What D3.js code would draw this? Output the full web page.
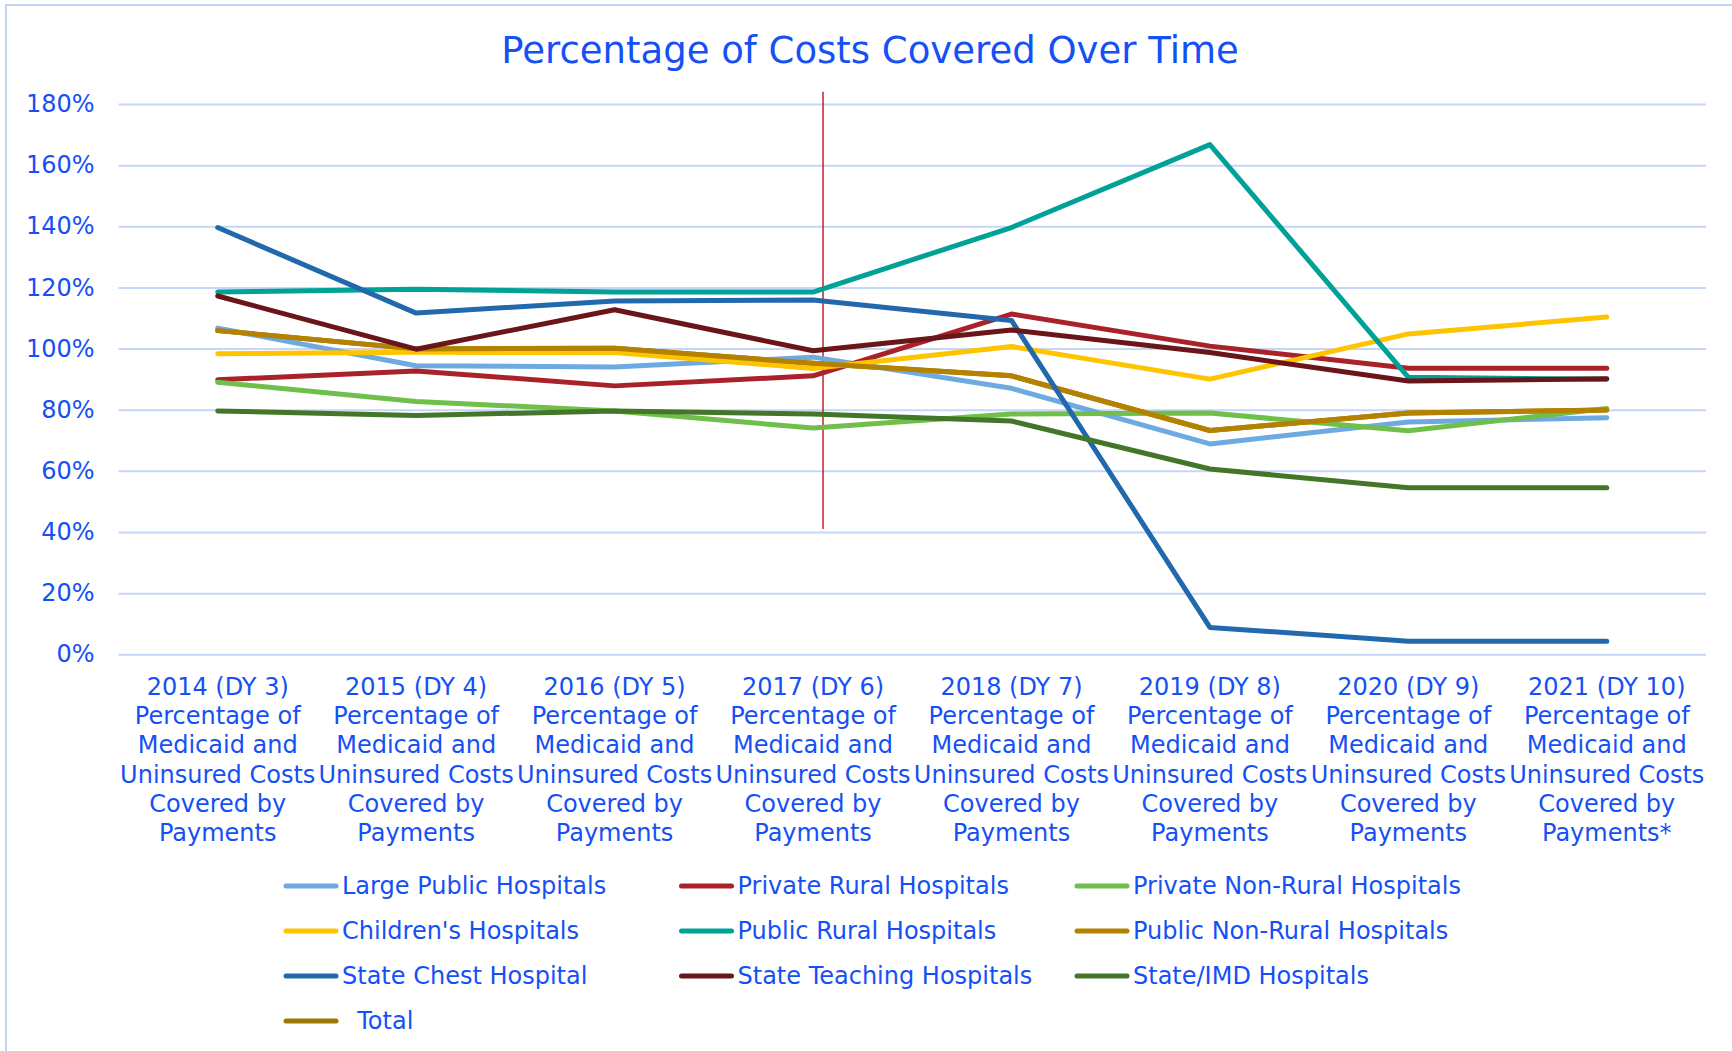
<!DOCTYPE html>
<html>
<head>
<meta charset="utf-8">
<script src="https://cdn.jsdelivr.net/npm/d3@7"></script>
<style>
  body { margin: 0; background: #fff; }
  text { font-family: "DejaVu Sans", Verdana, sans-serif; fill: #1450f5; }
</style>
</head>
<body>
<script>
// categories (x axis)
var categories = ["2014 (DY 3)", "2015 (DY 4)", "2016 (DY 5)", "2017 (DY 6)",
                  "2018 (DY 7)", "2019 (DY 8)", "2020 (DY 9)", "2021 (DY 10)"];
var categoryLines = [
  ["2014 (DY 3)", "Percentage of", "Medicaid and", "Uninsured Costs", "Covered by", "Payments"],
  ["2015 (DY 4)", "Percentage of", "Medicaid and", "Uninsured Costs", "Covered by", "Payments"],
  ["2016 (DY 5)", "Percentage of", "Medicaid and", "Uninsured Costs", "Covered by", "Payments"],
  ["2017 (DY 6)", "Percentage of", "Medicaid and", "Uninsured Costs", "Covered by", "Payments"],
  ["2018 (DY 7)", "Percentage of", "Medicaid and", "Uninsured Costs", "Covered by", "Payments"],
  ["2019 (DY 8)", "Percentage of", "Medicaid and", "Uninsured Costs", "Covered by", "Payments"],
  ["2020 (DY 9)", "Percentage of", "Medicaid and", "Uninsured Costs", "Covered by", "Payments"],
  ["2021 (DY 10)", "Percentage of", "Medicaid and", "Uninsured Costs", "Covered by", "Payments*"]
];
var yTicks = [0, 0.2, 0.4, 0.6, 0.8, 1.0, 1.2, 1.4, 1.6, 1.8];

// series values (fraction of costs covered)
var largePublic     = [1.067, 0.944, 0.940, 0.972, 0.870, 0.688, 0.760, 0.774];
var privateRural    = [0.898, 0.927, 0.878, 0.911, 1.113, 1.008, 0.936, 0.936];
var privateNonRural = [0.890, 0.827, 0.796, 0.740, 0.786, 0.789, 0.731, 0.804];
var childrens       = [0.983, 0.988, 0.987, 0.935, 1.007, 0.900, 1.048, 1.103];
var publicRural     = [1.185, 1.194, 1.185, 1.185, 1.396, 1.667, 0.906, 0.900];
var publicNonRural  = [1.059, 0.999, 1.001, 0.952, 0.911, 0.732, 0.789, 0.799];
var stateChest      = [1.396, 1.116, 1.156, 1.159, 1.092, 0.088, 0.043, 0.043];
var stateTeaching   = [1.172, 0.998, 1.127, 0.993, 1.061, 0.987, 0.894, 0.901];
var stateIMD        = [0.796, 0.781, 0.796, 0.786, 0.763, 0.606, 0.545, 0.545];
var total           = [1.059, 0.999, 1.001, 0.952, 0.911, 0.732, 0.789, 0.799];

var seriesNames = ["Large Public Hospitals", "Private Rural Hospitals", "Private Non-Rural Hospitals",
                   "Children's Hospitals", "Public Rural Hospitals", "Public Non-Rural Hospitals",
                   "State Chest Hospital", "State Teaching Hospitals", "State/IMD Hospitals", "  Total"];
var seriesValues = [largePublic, privateRural, privateNonRural, childrens, publicRural,
                    publicNonRural, stateChest, stateTeaching, stateIMD, total];
var seriesColors = ["#6eaae2", "#aa2229", "#6fbf4a", "#ffc400", "#00a197",
                    "#b58100", "#2268ad", "#6a1519", "#437629", "#9c7800"];

var W = 1732, H = 1051;
var svg = d3.select("body").append("svg").attr("width", W).attr("height", H);

// chart border
svg.append("rect").attr("x", 6).attr("y", 5).attr("width", W + 20).attr("height", H + 20)
  .attr("fill", "none").attr("stroke", "#c3d3f7").attr("stroke-width", 2);

svg.append("text").attr("x", 870).attr("y", 63).attr("text-anchor", "middle")
  .style("font-size", "37px").text("Percentage of Costs Covered Over Time");

var x = d3.scalePoint().domain(categories).range([118.5, 1706]).padding(0.5);
var y = d3.scaleLinear().domain([0, 1.8]).range([654.3, 104]);

// gridlines + y axis
var yAxis = svg.append("g").attr("transform", "translate(118.5,0)")
  .call(d3.axisLeft(y).tickValues(yTicks).tickFormat(d3.format(".0%"))
        .tickSize(-(1706 - 118.5)).tickPadding(24));
yAxis.select(".domain").remove();
yAxis.selectAll("line").attr("stroke", "#c6d6f7").attr("stroke-width", 2);
yAxis.selectAll("text").style("font-size", "24px").attr("fill", "#1450f5")
  .style("font-family", "'DejaVu Sans', Verdana, sans-serif");

// category labels
var xl = svg.append("g").selectAll("text").data(categories).enter().append("text")
  .attr("text-anchor", "middle").attr("y", 695).style("font-size", "24px");
xl.each(function(d, i) {
  var t = d3.select(this);
  categoryLines[i].forEach(function(line, j) {
    t.append("tspan").attr("x", x(d)).attr("y", 695 + j * 29.2).text(line);
  });
});

// red annotation line near 2017
svg.append("line")
  .attr("x1", x(categories[3]) + 10).attr("x2", x(categories[3]) + 10)
  .attr("y1", y(1.84)).attr("y2", y(0.41))
  .attr("stroke", "#c00000").attr("stroke-width", 1.3);

var line = d3.line().x(function(d, i) { return x(categories[i]); }).y(function(d) { return y(d); });

// total underneath, then series in order
var drawOrder = [9, 0, 1, 2, 3, 4, 5, 6, 7, 8];
svg.append("g").selectAll("path").data(drawOrder).enter().append("path")
  .attr("d", function(k) { return line(seriesValues[k]); })
  .attr("fill", "none").attr("stroke", function(k) { return seriesColors[k]; })
  .attr("stroke-width", 5).attr("stroke-linejoin", "round").attr("stroke-linecap", "round");

// legend
var leg = svg.append("g").selectAll("g").data(seriesNames).enter().append("g")
  .attr("transform", function(d, i) {
    return "translate(" + (284 + (i % 3) * 395.5) + "," + (894 + Math.floor(i / 3) * 45) + ")";
  });
leg.append("line").attr("x1", 2).attr("x2", 52).attr("y1", -8).attr("y2", -8)
  .attr("stroke", function(d, i) { return seriesColors[i]; })
  .attr("stroke-width", 5).attr("stroke-linecap", "round");
leg.append("text").attr("x", 58).attr("y", 0).style("font-size", "24px")
  .style("white-space", "pre").text(function(d) { return d; });
</script>
</body>
</html>
